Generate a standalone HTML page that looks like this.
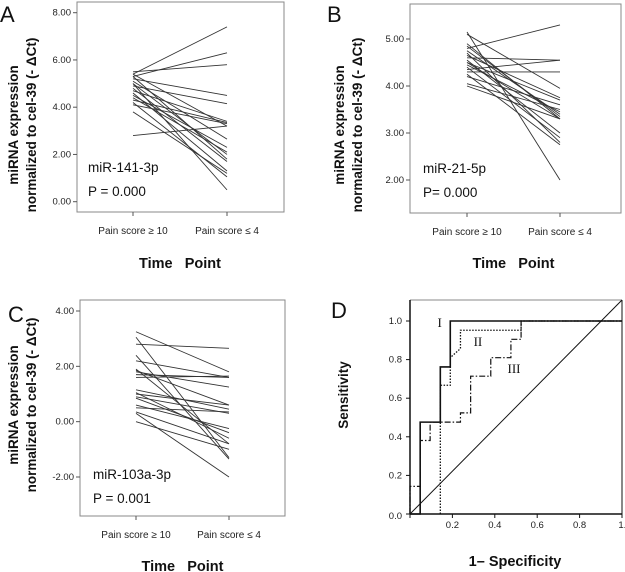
<!DOCTYPE html>
<html><head><meta charset="utf-8">
<style>
html,body{margin:0;padding:0;background:#fff;}
svg{display:block;font-family:"Liberation Sans","DejaVu Sans",sans-serif;}
</style></head>
<body>
<svg id="fig" width="625" height="572" viewBox="0 0 625 572"></svg>
<script>
// Panel A data (left = Pain score ≥10, right = Pain score ≤4)
const catLabels = ["Pain score \u2265 10","Pain score \u2264 4"];
const aLeft  = [5.4,5.3,5.5,5.2,4.9,4.7,4.3,4.1,2.8,5.4,5.1,4.5,4.4,5.0,5.3,4.8,4.6,3.8,4.2,5.0];
const aRight = [7.4,6.3,5.8,4.5,4.15,3.4,3.35,3.3,3.2,3.2,2.65,2.3,2.1,2.0,1.8,1.7,1.3,1.2,1.05,0.5];
const aTicks = [0,2,4,6,8];
// Panel B data
const bLeft  = [4.8,4.6,4.35,4.3,5.1,4.65,4.5,4.2,4.05,4.45,4.75,4.9,4.0,4.55,4.4,4.7,4.25,5.15,4.85,4.5];
const bRight = [5.3,4.55,4.55,4.3,3.95,3.75,3.7,3.6,3.5,3.45,3.4,3.3,3.3,3.0,2.9,2.8,2.75,2.0,3.35,3.3];
const bTicks = [2,3,4,5];
// Panel C data
const cLeft  = [3.25,3.05,2.8,2.4,2.2,1.9,1.8,1.85,1.7,1.15,1.0,1.05,0.9,0.6,0.5,0.35,0.3,0.0,0.85,1.6];
const cRight = [1.8,-1.3,2.65,-1.35,1.6,-0.8,1.25,0.6,1.6,0.45,0.6,-0.6,0.3,-0.25,0.35,-0.8,-2.0,-1.0,-0.4,1.65];
const cTicks = [-2,0,2,4];
// Panel D ROC curves
const rocIx = [0,0.048,0.048,0.143,0.143,0.19,0.19,1];
const rocIy = [0,0,0.476,0.476,0.762,0.762,1,1];
const rocIIx = [0.143,0.143,0.19,0.19,0.238,0.238,0.524,0.524,1];
const rocIIy = [0,0.667,0.667,0.81,0.857,0.952,0.952,1,1];
const rocIIIx = [0,0,0.048,0.048,0.095,0.095,0.238,0.238,0.286,0.286,0.381,0.381,0.476,0.476,0.524,0.524,1];
const rocIIIy = [0,0.143,0.143,0.381,0.381,0.476,0.476,0.524,0.524,0.714,0.714,0.81,0.81,0.905,0.905,1,1];
const dTicks = [0,0.2,0.4,0.6,0.8,1.0];

const NS="http://www.w3.org/2000/svg";
const svg=document.getElementById('fig');
function mk(tag,attrs,parent,text){const e=document.createElementNS(NS,tag);for(const k in attrs)e.setAttribute(k,attrs[k]);if(text!==undefined)e.textContent=text;(parent||svg).appendChild(e);return e;}

function slopePanel(o){
  const g=mk('g',{});
  
  
  const y=v=>o.y0px+(v-o.v0)*(o.y1px-o.y0px)/(o.v1-o.v0);
  const fr=mk('rect',{x:o.bx,y:o.by,width:o.bw,height:o.bh,fill:'none',stroke:'#888','stroke-width':1},g);
  
  
  o.ticks.forEach(t=>{
    mk('line',{x1:o.bx-4,x2:o.bx,y1:y(t),y2:y(t),stroke:'#555'},g);
    const tl=mk('text',{x:o.bx-6,y:y(t)+3,'font-size':9.5,'text-anchor':'end',fill:'#222'},g,t.toFixed(2));
    
    
  });
  o.cx.forEach((cx,i)=>{
    mk('line',{x1:cx,x2:cx,y1:o.by+o.bh,y2:o.by+o.bh+4,stroke:'#555'},g);
    const cl=mk('text',{x:cx,y:o.by+o.bh+22,'font-size':10,'text-anchor':'middle',fill:'#222'},g,catLabels[i]);
    
    
  });
  o.L.forEach((l,i)=>{
    const ln=mk('line',{x1:o.cx[0],y1:y(l),x2:o.cx[1],y2:y(o.R[i]),stroke:'#333','stroke-width':0.9},g);
    
    
  });
  const xt=mk('text',{x:(o.cx[0]+o.cx[1])/2,y:o.xty,'font-size':14.5,'font-weight':'bold','text-anchor':'middle',fill:'#111'},g,'Time\u00a0\u00a0\u00a0Point');
  
  
  const yt=mk('text',{transform:`translate(${o.ytx},${o.yty}) rotate(-90)`,'font-size':13.5,'font-weight':'bold','text-anchor':'middle',fill:'#111'},g);
  
  
  mk('tspan',{x:0,dy:0},yt,'miRNA expression');
  mk('tspan',{x:0,dy:18},yt,'normalized to cel-39 (- \u0394Ct)');
  const an=mk('text',{x:o.ax,y:o.ay,'font-size':13.5,fill:'#111'},g,o.mir);
  
  
  const pv=mk('text',{x:o.ax,y:o.ay+24,'font-size':13.5,fill:'#111'},g,o.p);
  
  
  const lt=mk('text',{x:o.lx,y:o.ly,'font-size':22,fill:'#111'},g,o.letter);
  
  
}

slopePanel({name:'panel-a',bx:77,by:2,bw:207,bh:210,v0:8,v1:0,y0px:12.7,y1px:201.7,ticks:aTicks,cx:[133,227],L:aLeft,R:aRight,xty:268,ytx:18,yty:125,ax:88,ay:172,mir:'miR-141-3p',p:'P = 0.000',lx:0,ly:22,letter:'A'});
slopePanel({name:'panel-b',bx:410,by:4,bw:211,bh:209,v0:5,v1:2,y0px:39,y1px:180,ticks:bTicks,cx:[467,560],L:bLeft,R:bRight,xty:268,ytx:344,yty:125,ax:423,ay:173,mir:'miR-21-5p',p:'P= 0.000',lx:327,ly:22,letter:'B'});
slopePanel({name:'panel-c',bx:80,by:300,bw:205,bh:216,v0:4,v1:-2,y0px:311,y1px:477,ticks:cTicks,cx:[136,229],L:cLeft,R:cRight,xty:571,ytx:18,yty:405,ax:93,ay:479,mir:'miR-103a-3p',p:'P = 0.001',lx:8,ly:322,letter:'C'});

// Panel D
(function(){
  const g=mk('g',{});
  
  
  const X=v=>410+v*212, Y=v=>514-v*193;
  mk('line',{x1:410,y1:300,x2:622,y2:300,stroke:'#888','stroke-width':1},g);
  mk('line',{x1:410,y1:300,x2:410,y2:514,stroke:'#111','stroke-width':1.5},g);
  mk('line',{x1:410,y1:514,x2:622,y2:514,stroke:'#111','stroke-width':1.5},g);
  mk('line',{x1:622,y1:300,x2:622,y2:514,stroke:'#111','stroke-width':1},g);
  dTicks.forEach(t=>{
    mk('line',{x1:406,x2:410,y1:Y(t),y2:Y(t),stroke:'#111'},g);
    const yl=mk('text',{x:402,y:Y(t)+3+(t===0?2:0),'font-size':9.5,'text-anchor':'end',fill:'#222'},g,t.toFixed(1));
    
    
    mk('line',{x1:X(t),x2:X(t),y1:514,y2:518,stroke:'#111'},g);
    if(t>0){const xl=mk('text',{x:X(t)+(t===1?3:0),y:528,'font-size':9.5,'text-anchor':'middle',fill:'#222'},g,t.toFixed(1));
    
    }
  });
  const diag=mk('line',{x1:410,y1:514,x2:622,y2:300,stroke:'#111','stroke-width':1},g);
  
  
  function curve(xs,ys,dash,w,name){
    const p=mk('polyline',{points:xs.map((x,i)=>X(x)+','+Y(ys[i])).join(' '),fill:'none',stroke:'#111','stroke-width':w,'stroke-dasharray':dash},g);
    
    
  }
  curve(rocIIIx,rocIIIy,'6,2,1.5,2',1.2,'roc-curve-iii');
  curve(rocIIx,rocIIy,'1.5,1.5',1.3,'roc-curve-ii');
  curve(rocIx,rocIy,'none',1.6,'roc-curve-i');
  [['I',0.13,0.97],['II',0.3,0.87],['III',0.46,0.73]].forEach(a=>{
    const t=mk('text',{x:X(a[1]),y:Y(a[2]),'font-size':13,'font-family':'Liberation Serif, serif',fill:'#111'},g,a[0]);
    
    
  });
  const xt=mk('text',{x:515,y:566,'font-size':14.5,'font-weight':'bold','text-anchor':'middle',fill:'#111'},g,'1\u2013 Specificity');
  
  
  const yt=mk('text',{transform:'translate(348,395) rotate(-90)','font-size':13.5,'font-weight':'bold','text-anchor':'middle',fill:'#111'},g,'Sensitivity');
  
  
  const lt=mk('text',{x:331,y:318,'font-size':22,fill:'#111'},g,'D');
  
  
})();
</script>
</body></html>
